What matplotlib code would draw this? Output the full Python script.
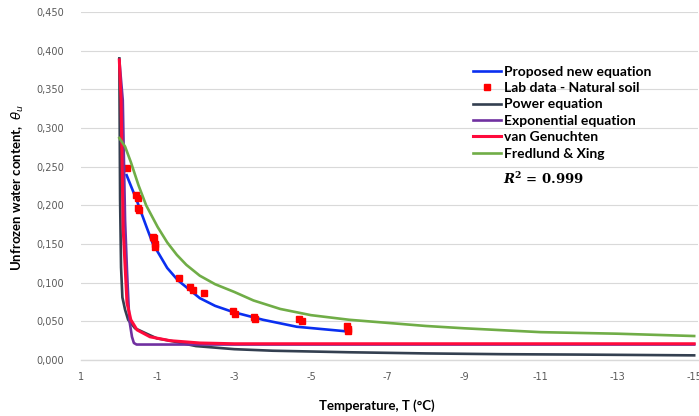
import matplotlib
matplotlib.use("Agg")
import matplotlib.pyplot as plt
from matplotlib.ticker import FuncFormatter, MultipleLocator

# ---------------- data ----------------
blue_T = [-0.19, -0.45, -0.71, -0.87, -1.0, -1.25, -1.53, -2.1, -2.5, -2.97, -3.75, -4.63, -5.94]
blue_theta = [0.239, 0.207, 0.172, 0.151, 0.140, 0.119, 0.103, 0.080, 0.070, 0.062, 0.052, 0.043, 0.037]

lab_T = [-0.20, -0.44, -0.49, -0.49, -0.52, -0.87, -0.90, -0.93, -0.94, -1.56, -1.84, -1.92,
         -2.21, -2.96, -3.01, -3.51, -3.54, -4.69, -4.76, -5.94, -5.96, -5.96]
lab_theta = [0.248, 0.213, 0.209, 0.197, 0.194, 0.159, 0.158, 0.150, 0.146, 0.106, 0.094, 0.091,
             0.086, 0.064, 0.060, 0.056, 0.053, 0.053, 0.051, 0.044, 0.040, 0.038]

power_T = [0.0, -0.02, -0.045, -0.08, -0.15, -0.23, -0.41, -0.80, -0.98, -1.32, -2.0, -3.0,
           -4.0, -5.0, -6.0, -8.0, -10.0, -12.0, -15.0]
power_theta = [0.390, 0.207, 0.120, 0.081, 0.065, 0.052, 0.041, 0.032, 0.028, 0.025, 0.018, 0.014,
               0.012, 0.011, 0.010, 0.0085, 0.0075, 0.007, 0.006]

exp_T = [0.0, -0.09, -0.15, -0.20, -0.26, -0.33, -0.38, -0.45, -1.0, -15.0]
exp_theta = [0.388, 0.336, 0.181, 0.116, 0.052, 0.030, 0.022, 0.020, 0.020, 0.020]

vg_T = [0.0, -0.045, -0.10, -0.20, -0.30, -0.46, -0.80, -1.32, -2.1, -3.0, -15.0]
vg_theta = [0.388, 0.336, 0.170, 0.074, 0.052, 0.039, 0.030, 0.025, 0.022, 0.021, 0.021]

fx_T = [0.0, -0.15, -0.30, -0.50, -0.70, -1.0, -1.25, -1.5, -1.75, -2.1, -2.5, -3.0, -3.5,
        -4.2, -5.0, -6.0, -7.0, -8.0, -9.0, -11.0, -13.0, -15.0]
fx_theta = [0.287, 0.276, 0.256, 0.226, 0.200, 0.172, 0.152, 0.136, 0.123, 0.109, 0.098, 0.088,
            0.077, 0.066, 0.058, 0.052, 0.048, 0.044, 0.041, 0.036, 0.034, 0.031]

x_ticks = [1, -1, -3, -5, -7, -9, -11, -13, -15]
series_labels = ["Proposed new equation", "Lab data - Natural soil", "Power equation",
                 "Exponential equation", "van Genuchten", "Fredlund & Xing"]
r2_text = r"$\mathbfit{R}^{\mathbf{2}}\mathbf{\,=\,0.999}$"

# ---------------- figure ----------------
W, H = 699, 416
fig = plt.figure(figsize=(W / 100, H / 100), dpi=100)
ax = fig.add_axes([81 / W, (H - 360) / H, (698 - 81) / W, (360 - 12) / H])

lw = 1.9
l_blue, = ax.plot(blue_T, blue_theta, color="#0a2ff0", lw=lw, zorder=3, label=series_labels[0])
l_lab, = ax.plot(lab_T, lab_theta, ls="none", marker="s", ms=5, color="#ff0000",
                 mec="#ff0000", zorder=4, label=series_labels[1])
l_pow, = ax.plot(power_T, power_theta, color="#333f50", lw=lw, zorder=5, label=series_labels[2])
l_exp, = ax.plot(exp_T, exp_theta, color="#7030a0", lw=lw, zorder=6, label=series_labels[3])
l_vg, = ax.plot(vg_T, vg_theta, color="#ff0a3c", lw=2.2, zorder=7, label=series_labels[4])
l_fx, = ax.plot(fx_T, fx_theta, color="#70ad47", lw=lw, zorder=8, label=series_labels[5])

ax.set_xlim(1, -15.1)
ax.set_ylim(0, 0.45)
ax.set_xticks(x_ticks)
ax.yaxis.set_major_locator(MultipleLocator(0.05))
ax.yaxis.set_major_formatter(FuncFormatter(lambda v, p: f"{v:.3f}".replace(".", ",")))
ax.xaxis.set_major_formatter(FuncFormatter(lambda v, p: f"{int(round(v))}"))
ax.tick_params(axis="both", length=0, labelsize=7, labelcolor="#595959")
ax.tick_params(axis="y", pad=12)
ax.tick_params(axis="x", pad=9)
for lab in ax.get_xticklabels() + ax.get_yticklabels():
    lab.set_family("DejaVu Sans")

ax.grid(axis="y", color="#d9d9d9", lw=0.8)
ax.set_axisbelow(True)
for s in ["top", "right", "left"]:
    ax.spines[s].set_visible(False)
ax.spines["bottom"].set_color("#d9d9d9")
ax.spines["bottom"].set_linewidth(1.0)

handles = [l_blue, l_lab, l_pow, l_exp, l_vg, l_fx]
leg = ax.legend(handles=handles, labels=series_labels, loc="upper left",
                bbox_to_anchor=(473 / W, 1 - 65.5 / H), bbox_transform=fig.transFigure,
                frameon=False, borderpad=0, borderaxespad=0, handlelength=2.0,
                handletextpad=0.22, labelspacing=0.32,
                prop={"family": ["Lato", "DejaVu Sans"], "weight": "bold", "size": 10})
leg.set_zorder(20)

fig.text(503 / W, 1 - 179 / H, r2_text, ha="left", va="center", fontsize=9.5,
         math_fontfamily="dejavuserif")

fig.text(18 / W, 1 - 188 / H, r"Unfrozen water content,  $\theta_u$", rotation=90,
         ha="center", va="center", fontsize=9.5, fontweight="bold",
         family=["Lato", "DejaVu Sans"])
fig.text(377 / W, 1 - 406 / H, "Temperature, T (°C)", ha="center", va="center",
         fontsize=9.5, fontweight="bold", family=["Lato", "DejaVu Sans"])

fig.savefig("out.png", dpi=100)
